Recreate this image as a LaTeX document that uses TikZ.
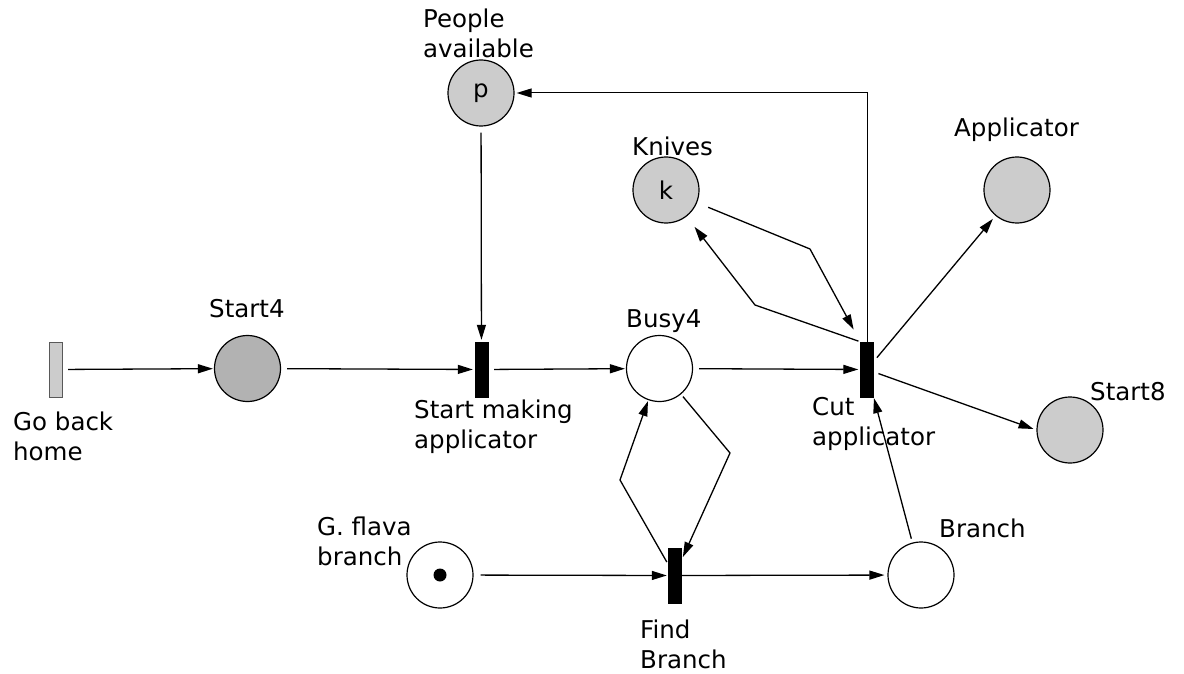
\documentclass[tikz,border=0pt]{standalone}
\usepackage{fontspec}
\setmainfont{DejaVu Sans}
\usetikzlibrary{arrows.meta}

\begin{document}
\begin{tikzpicture}[x=1pt, y=-1pt, font=\fontsize{24.5}{30}\selectfont,
	place/.style={circle, draw, line width=1.2pt, minimum size=66pt, inner sep=0pt},
	trans/.style={rectangle, draw, fill=black, minimum width=13pt, minimum height=55pt, inner sep=0pt},
	lbl/.style={anchor=north west, inner sep=0pt, align=left},
	arc/.style={-{Triangle[length=15pt, width=9pt]}, line width=1.3pt, shorten <=6pt, shorten >=2pt}]
	\useasboundingbox (0,0) rectangle (1184,674);

	\node[trans, fill=gray!40, draw=gray!70!black] (goback) at (55.5,369.5) {};
	\node[place, fill=gray!60] (start4) at (247.5,368.5) {};
	\node[place, fill=gray!40] (people) at (481,93) {p};
	\node[trans] (startmk) at (481.5,369.5) {};
	\node[place] (busy) at (659.5,368.5) {};
	\node[place, fill=gray!40] (knives) at (666,190) {k};
	\node[trans] (cut) at (867,369.5) {};
	\node[place, fill=gray!40] (applic) at (1017,190) {};
	\node[place, fill=gray!40] (start8) at (1070,430) {};
	\node[place] (gflava) at (440,575) {};
	\node[circle, fill=black, minimum size=13pt, inner sep=0pt] (token) at (gflava) {};
	\node[trans] (find) at (674.5,575.5) {};
	\node[place] (branch) at (921,575) {};

	\node[lbl] (lgoback) at (13,411.4) {Go back\\home};
	\node[lbl] (lstart4) at (209,299) {Start4};
	\node[lbl] (lpeople) at (423,8.4) {People\\available};
	\node[lbl] (lstartmk) at (414,399.4) {Start making\\applicator};
	\node[lbl] (lbusy) at (626,309) {Busy4};
	\node[lbl] (lknives) at (632,136.4) {Knives};
	\node[lbl] (lcut) at (812,397.1) {Cut\\applicator};
	\node[lbl] (lapplic) at (954,117.4) {Applicator};
	\node[lbl] (lstart8) at (1090,382.1) {Start8};
	\node[lbl] (lgflava) at (317,516.4) {G. flava\\branch};
	\node[lbl] (lfind) at (640,619.4) {Find\\Branch};
	\node[lbl] (lbranch) at (939,518.4) {Branch};

	\coordinate (kin) at (810,249);
	\coordinate (kout) at (755,305);
	\coordinate (bin) at (730,453);
	\coordinate (bout) at (620,480);

	\draw[arc, shorten >=1pt] (goback) -- (start4);
	\draw[arc] (start4) -- (startmk);
	\draw[arc] (people) -- (startmk);
	\draw[arc, shorten >=1pt] (startmk) -- (busy);
	\draw[arc] (busy) -- (cut);
	\draw[arc, line width=1pt, shorten <=0pt] (cut.north) |- (people.east);
	\draw[arc, shorten <=12pt, shorten >=14pt] (knives) -- (kin) -- (cut.north west);
	\draw[arc, shorten <=2pt, shorten >=13pt] (cut.north west) -- (kout) -- (knives);
	\draw[arc, shorten <=5pt, shorten >=4pt] (cut) -- (applic);
	\draw[arc, shorten <=5pt, shorten >=3pt] (cut) -- (start8.west);
	\draw[arc, shorten <=3pt, shorten >=4pt] (busy) -- (bin) -- (find);
	\draw[arc, shorten <=2pt, shorten >=1pt] (find) -- (bout) -- (busy);
	\draw[arc, shorten <=7pt, shorten >=1pt] (gflava) -- (find);
	\draw[arc, shorten <=0pt, shorten >=3pt] (find) -- (branch);
	\draw[arc, shorten <=4pt, shorten >=1pt] (branch) -- (cut.south east);
\end{tikzpicture}
\end{document}
